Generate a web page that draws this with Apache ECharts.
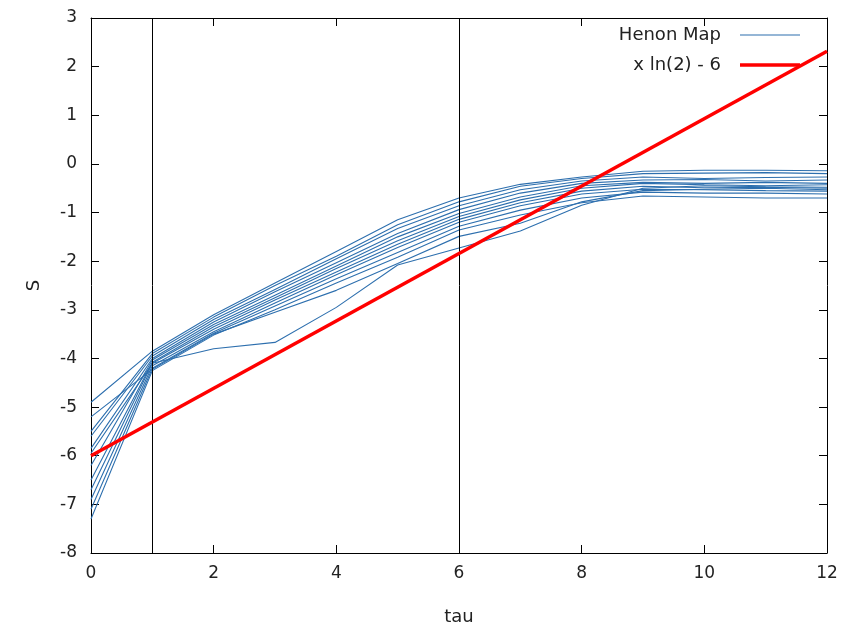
<!DOCTYPE html>
<html>
<head>
<meta charset="utf-8">
<script src="https://cdn.jsdelivr.net/npm/echarts@6/dist/echarts.min.js"></script>
<style>
html,body{margin:0;padding:0;background:#fff;overflow:hidden;}
#chart{width:843px;height:631px;}
</style>
</head>
<body>
<div id="chart"></div>
<script>
// tau values
var tau = [0,1,2,3,4,5,6,7,8,9,10,11,12];
// Henon map entropy curves (one per run)
var henon1  = [-4.90,-3.85,-3.10,-2.45,-1.80,-1.15,-0.70,-0.42,-0.27,-0.15,-0.13,-0.13,-0.14];
var henon2  = [-5.50,-3.90,-3.15,-2.50,-1.90,-1.25,-0.78,-0.46,-0.30,-0.20,-0.19,-0.18,-0.20];
var henon3  = [-5.60,-3.95,-3.20,-2.58,-1.95,-1.33,-0.86,-0.53,-0.35,-0.27,-0.30,-0.28,-0.27];
var henon4  = [-5.85,-4.00,-3.25,-2.63,-2.03,-1.43,-0.94,-0.60,-0.40,-0.33,-0.32,-0.35,-0.33];
var henon5  = [-6.20,-4.03,-3.30,-2.70,-2.10,-1.50,-1.02,-0.68,-0.45,-0.38,-0.40,-0.38,-0.40];
var henon6  = [-6.50,-4.08,-3.35,-2.75,-2.15,-1.58,-1.08,-0.74,-0.50,-0.40,-0.43,-0.45,-0.43];
var henon7  = [-6.70,-4.10,-3.40,-2.80,-2.22,-1.65,-1.14,-0.80,-0.56,-0.46,-0.49,-0.48,-0.50];
var henon8  = [-6.90,-4.15,-3.45,-2.86,-2.28,-1.72,-1.20,-0.86,-0.62,-0.52,-0.53,-0.55,-0.56];
var henon9  = [-7.10,-4.20,-3.48,-2.92,-2.36,-1.82,-1.28,-0.95,-0.70,-0.58,-0.60,-0.60,-0.62];
var henon10 = [-7.30,-4.25,-3.52,-3.00,-2.45,-1.92,-1.36,-1.05,-0.80,-0.66,-0.68,-0.70,-0.70];
var henon11 = [-5.95,-4.10,-3.80,-3.67,-2.95,-2.08,-1.73,-1.38,-0.85,-0.50,-0.45,-0.47,-0.48];
var henon12 = [-5.20,-4.22,-3.50,-3.05,-2.60,-2.05,-1.49,-1.22,-0.78,-0.55,-0.52,-0.50,-0.53];
var henonRuns = [henon1,henon2,henon3,henon4,henon5,henon6,henon7,henon8,henon9,henon10,henon11,henon12];
// reference line y = x ln(2) - 6, evaluated at the end points
var refX = [0, 12];
var refY = [-6, 12*Math.LN2 - 6];
// vertical markers
var markersX = [1, 6];
// tick labels
var xTicks = [0,2,4,6,8,10,12];
var yTicks = [-8,-7,-6,-5,-4,-3,-2,-1,0,1,2,3];

var FONT = 'DejaVu Sans';
var blue = '#2d6fae';
var chart = echarts.init(document.getElementById('chart'), null, {renderer:'canvas'});

var series = henonRuns.map(function(run, i){
  var s = {
    name: 'Henon Map',
    type: 'line',
    symbol: 'none',
    showSymbol: false,
    silent: true,
    animation: false,
    data: tau.map(function(t, j){ return [t, run[j]]; }),
    lineStyle: {color: blue, width: 1.1},
    itemStyle: {color: blue},
    z: 3
  };
  if (i === 0) {
    s.markLine = {
      silent: true,
      symbol: ['none','none'],
      label: {show: false},
      lineStyle: {color: '#000', width: 1, type: 'solid'},
      data: markersX.map(function(x){ return {xAxis: x}; })
    };
  }
  return s;
});
series.push({
  name: 'x ln(2) - 6',
  type: 'line',
  symbol: 'none',
  showSymbol: false,
  animation: false,
  data: refX.map(function(x, j){ return [x, refY[j]]; }),
  lineStyle: {color: '#ff0000', width: 3.5},
  itemStyle: {color: '#ff0000'},
  z: 5
});

var axisLabelStyle = {fontFamily: FONT, fontSize: 17, color: '#222'};
// legend line samples (thin blue, thick red), with invisible corner dots to fix the box
var thinIcon  = 'path://M0,0h0.01v0.01h-0.01z M0,6.4h60v1.2h-60z M59.99,13.99h0.01v0.01h-0.01z';
var thickIcon = 'path://M0,0h0.01v0.01h-0.01z M0,5.3h60v3.4h-60z M59.99,13.99h0.01v0.01h-0.01z';

chart.setOption({
  backgroundColor: '#fff',
  animation: false,
  grid: {left: 91, top: 18, right: 16, bottom: 74, containLabel: false},
  legend: {
    orient: 'vertical',
    right: 38,
    top: 21,
    align: 'right',
    itemWidth: 60,
    itemHeight: 14,
    itemGap: 12,
    textStyle: {fontFamily: FONT, fontSize: 18, color: '#222', padding: [0, 14, 0, 0]},
    data: [{name: 'Henon Map', icon: thinIcon}, {name: 'x ln(2) - 6', icon: thickIcon}]
  },
  xAxis: [{
    type: 'value', min: 0, max: 12, interval: 2,
    name: 'tau', nameLocation: 'middle', nameGap: 55,
    nameTextStyle: {fontFamily: FONT, fontSize: 18, color: '#222'},
    axisLine: {show: true, onZero: false, lineStyle: {color: '#000', width: 1}},
    axisTick: {show: true, inside: true, length: 8, lineStyle: {color: '#000'}},
    axisLabel: Object.assign({margin: 12, formatter: function(v){ return xTicks.indexOf(v) >= 0 ? String(v) : ''; }}, axisLabelStyle),
    splitLine: {show: false}
  }, {
    type: 'value', min: 0, max: 12, interval: 2, position: 'top',
    axisLine: {show: true, onZero: false, lineStyle: {color: '#000', width: 1}},
    axisTick: {show: true, inside: true, length: 8, lineStyle: {color: '#000'}},
    axisLabel: {show: false},
    splitLine: {show: false}
  }],
  yAxis: [{
    type: 'value', min: -8, max: 3, interval: 1,
    name: 'S', nameLocation: 'middle', nameGap: 48,
    nameTextStyle: {fontFamily: FONT, fontSize: 18, color: '#222'},
    axisLine: {show: true, onZero: false, lineStyle: {color: '#000', width: 1}},
    axisTick: {show: true, inside: true, length: 8, lineStyle: {color: '#000'}},
    axisLabel: Object.assign({margin: 14, formatter: function(v){ return yTicks.indexOf(v) >= 0 ? String(v) : ''; }}, axisLabelStyle),
    splitLine: {show: false}
  }, {
    type: 'value', min: -8, max: 3, interval: 1, position: 'right',
    axisLine: {show: true, onZero: false, lineStyle: {color: '#000', width: 1}},
    axisTick: {show: true, inside: true, length: 8, lineStyle: {color: '#000'}},
    axisLabel: {show: false},
    splitLine: {show: false}
  }],
  series: series
});
</script>
</body>
</html>
